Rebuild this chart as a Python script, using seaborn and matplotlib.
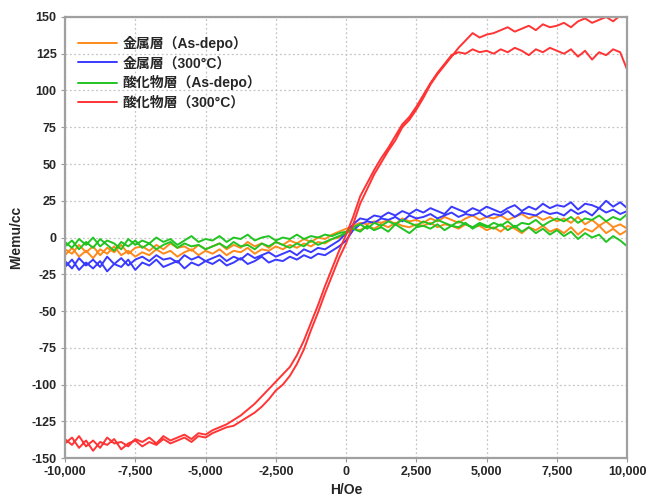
import matplotlib
matplotlib.use("Agg")
import matplotlib.pyplot as plt
from matplotlib.ticker import FuncFormatter
import pandas as pd
import seaborn as sns

# applied field grid (Oe), shared by every branch
FIELD = [
    -10000, -9750, -9500, -9250, -9000, -8750, -8500, -8250, -8000, -7750,
    -7500, -7250, -7000, -6750, -6500, -6250, -6000, -5750, -5500, -5250,
    -5000, -4750, -4500, -4250, -4000, -3750, -3500, -3250, -3000, -2750,
    -2500, -2250, -2000, -1750, -1500, -1250, -1000, -750, -500, -250,
    0, 250, 500, 750, 1000, 1250, 1500, 1750, 2000, 2250,
    2500, 2750, 3000, 3250, 3500, 3750, 4000, 4250, 4500, 4750,
    5000, 5250, 5500, 5750, 6000, 6250, 6500, 6750, 7000, 7250,
    7500, 7750, 8000, 8250, 8500, 8750, 9000, 9250, 9500, 9750,
    10000,
]

LABELS = ["金属層（As-depo）", "金属層（300°C）", "酸化物層（As-depo）", "酸化物層（300°C）"]
COLORS = ["#ff8a1c", "#3a3aff", "#22c422", "#ff3434"]

# magnetisation (emu/cc), listed along FIELD; "up" = rising field, "down" = falling field
metal_asdepo_up = [
    -12, -7, -13, -9, -14, -8, -11, -6, -12, -9, -13,
    -10, -12, -8, -11, -9, -13, -10, -8, -12, -9,
    -11, -8, -12, -9, -10, -7, -11, -8, -9, -6,
    -8, -5, -7, -4, -6, -3, -4, -1, 0, 3,
    6, 5, 8, 6, 9, 7, 10, 8, 7, 9,
    8, 10, 7, 9, 8, 6, 9, 7, 8, 5,
    7, 4, 8, 6, 3, 7, 5, 8, 4, 6,
    3, 7, 2, 6, 4, 8, 3, 6, 2, 5,
]
metal_asdepo_down = [
    -8, -11, -5, -10, -6, -12, -7, -10, -5, -11, -7,
    -6, -9, -5, -8, -4, -7, -6, -9, -5, -8,
    -6, -4, -8, -5, -7, -3, -6, -4, -7, -3,
    -5, -2, -4, -1, -3, 0, -1, 2, 4, 6,
    8, 10, 9, 11, 10, 12, 9, 13, 11, 12,
    10, 13, 11, 14, 12, 10, 13, 15, 12, 14,
    13, 15, 12, 14, 16, 13, 15, 12, 14, 11,
    13, 10, 14, 9, 12, 8, 11, 7, 9, 6,
]
metal_300_up = [
    -20, -15, -22, -17, -21, -16, -23, -18, -20, -15, -22,
    -17, -19, -15, -20, -18, -16, -21, -17, -19, -16,
    -18, -15, -19, -17, -14, -18, -16, -13, -17, -15,
    -16, -13, -15, -12, -14, -11, -12, -9, -6, -2,
    5, 9, 11, 10, 13, 12, 14, 11, 15, 13,
    14, 16, 13, 15, 17, 14, 16, 15, 17, 14,
    16, 15, 18, 14, 17, 16, 15, 18, 16, 17,
    15, 19, 16, 18, 15, 20, 17, 19, 16, 18,
]
metal_300_down = [
    -16, -21, -14, -19, -15, -20, -13, -18, -14, -19, -15,
    -13, -16, -12, -15, -14, -17, -12, -15, -13, -16,
    -14, -12, -16, -13, -15, -11, -14, -12, -10, -13,
    -11, -9, -12, -8, -10, -7, -8, -5, -2, 3,
    9, 13, 12, 15, 14, 17, 15, 18, 16, 19,
    17, 20, 18, 16, 21, 19, 17, 20, 18, 21,
    19, 17, 20, 22, 18, 21, 19, 23, 20, 22,
    21, 24, 19, 23, 22, 20, 25, 21, 24, 20,
]
oxide_asdepo_up = [
    -6, -2, -8, -3, -7, -1, -5, -9, -3, -6, -2,
    -7, -4, -8, -5, -3, -7, -4, -6, -5, -8,
    -6, -4, -7, -3, -6, -5, -8, -4, -6, -3,
    -5, -7, -4, -6, -2, -5, -3, -1, 1, 3,
    6, 4, 8, 5, 7, 4, 9, 6, 3, 7,
    8, 6, 9, 5, 8, 7, 10, 6, 9, 7,
    10, 8, 11, 7, 10, 9, 12, 8, 11, 13,
    11, 14, 10, 13, 12, 15, 11, 14, 12, 16,
]
oxide_asdepo_down = [
    -3, -7, -1, -5, 0, -6, -2, -4, -8, -1, -5,
    -2, -4, 0, -3, -1, -5, -2, 1, -3, -1,
    -2, 1, -3, 0, -1, 2, -2, 0, 1, -2,
    0, -1, 2, -1, 1, 0, 2, 1, 3, 4,
    7, 9, 6, 10, 8, 11, 9, 12, 10, 8,
    11, 9, 12, 10, 8, 11, 9, 7, 10, 8,
    6, 9, 5, 8, 4, 7, 3, 6, 2, 5,
    1, 4, -1, 3, 0, 2, -3, 1, -2, -6,
]
oxide_300_up = [
    -140, -136, -143, -138, -145, -139, -141, -137, -144, -140, -138,
    -142, -139, -141, -137, -140, -138, -136, -139, -135, -136,
    -133, -131, -129, -128, -125, -122, -119, -115, -110, -104,
    -100, -94, -86, -76, -63, -51, -38, -26, -14, -4,
    9, 23, 33, 43, 51, 59, 66, 75, 80, 87,
    95, 104, 111, 117, 123, 129, 134, 139, 136, 138,
    139, 141, 143, 140, 142, 144, 141, 145, 143, 144,
    146, 143, 147, 149, 146, 148, 150, 147, 151, 150,
]
oxide_300_down = [
    -137, -141, -135, -142, -138, -143, -136, -140, -139, -142, -137,
    -139, -136, -140, -135, -138, -136, -134, -137, -133, -134,
    -131, -129, -127, -124, -121, -117, -113, -108, -103, -98,
    -93, -88, -80, -70, -58, -46, -33, -21, -9, 2,
    14, 28, 37, 46, 54, 61, 69, 77, 82, 89,
    97, 105, 112, 118, 124, 126, 125, 128, 126, 127,
    125, 128, 126, 129, 127, 124, 128, 126, 129, 127,
    125, 128, 123, 127, 121, 126, 124, 128, 126, 114,
]

X_TICKS = [-10000, -7500, -5000, -2500, 0, 2500, 5000, 7500, 10000]
Y_TICKS = [-150, -125, -100, -75, -50, -25, 0, 25, 50, 75, 100, 125, 150]

sns.set_style("ticks")
plt.rcParams["font.family"] = ["Liberation Sans", "Noto Sans CJK JP"]
plt.rcParams["font.weight"] = "bold"
plt.rcParams["axes.unicode_minus"] = False

loops = [
    (metal_asdepo_down, metal_asdepo_up),
    (metal_300_down, metal_300_up),
    (oxide_asdepo_down, oxide_asdepo_up),
    (oxide_300_down, oxide_300_up),
]
frames = []
for label, (down, up) in zip(LABELS, loops):
    # falling branch from +H to -H, then rising branch back to +H
    frames.append(pd.DataFrame({
        "H": FIELD[::-1] + FIELD,
        "M": down[::-1] + up,
        "series": label,
    }))
df = pd.concat(frames, ignore_index=True)

fig = plt.figure(figsize=(6.53, 4.98), dpi=100)
ax = fig.add_axes([0.0995, 0.080, 0.8610, 0.886])

sns.lineplot(data=df, x="H", y="M", hue="series", hue_order=LABELS,
             palette=COLORS, sort=False, estimator=None, lw=1.4, ax=ax)

ax.set_xlim(-10000, 10000)
ax.set_ylim(-150, 150)
ax.set_xticks(X_TICKS)
ax.set_yticks(Y_TICKS)
ax.xaxis.set_major_formatter(FuncFormatter(lambda v, _: f"{int(v):,}"))
ax.grid(True, color="#c4c4c4", linestyle=(0, (1.5, 2)), linewidth=0.9)
ax.tick_params(direction="out", length=3, width=0.8, color="#999999",
               labelsize=9, pad=3)
for lab in ax.get_xticklabels() + ax.get_yticklabels():
    lab.set_fontweight("bold")
for sp in ax.spines.values():
    sp.set_color("#a0a0a0")
    sp.set_linewidth(1.6)

ax.set_xlabel("H/Oe", fontsize=10, fontweight="bold", labelpad=3)
ax.set_ylabel("M/emu/cc", fontsize=10, fontweight="bold", labelpad=6)

handles, labels = ax.get_legend_handles_labels()
ax.legend(handles, labels, loc="upper left", bbox_to_anchor=(0.023, 0.957),
          frameon=False, borderpad=0, borderaxespad=0, handlelength=2.8,
          handletextpad=0.4, labelspacing=0.38,
          prop={"size": 10, "weight": "bold"})

fig.savefig("out.png", dpi=100)
